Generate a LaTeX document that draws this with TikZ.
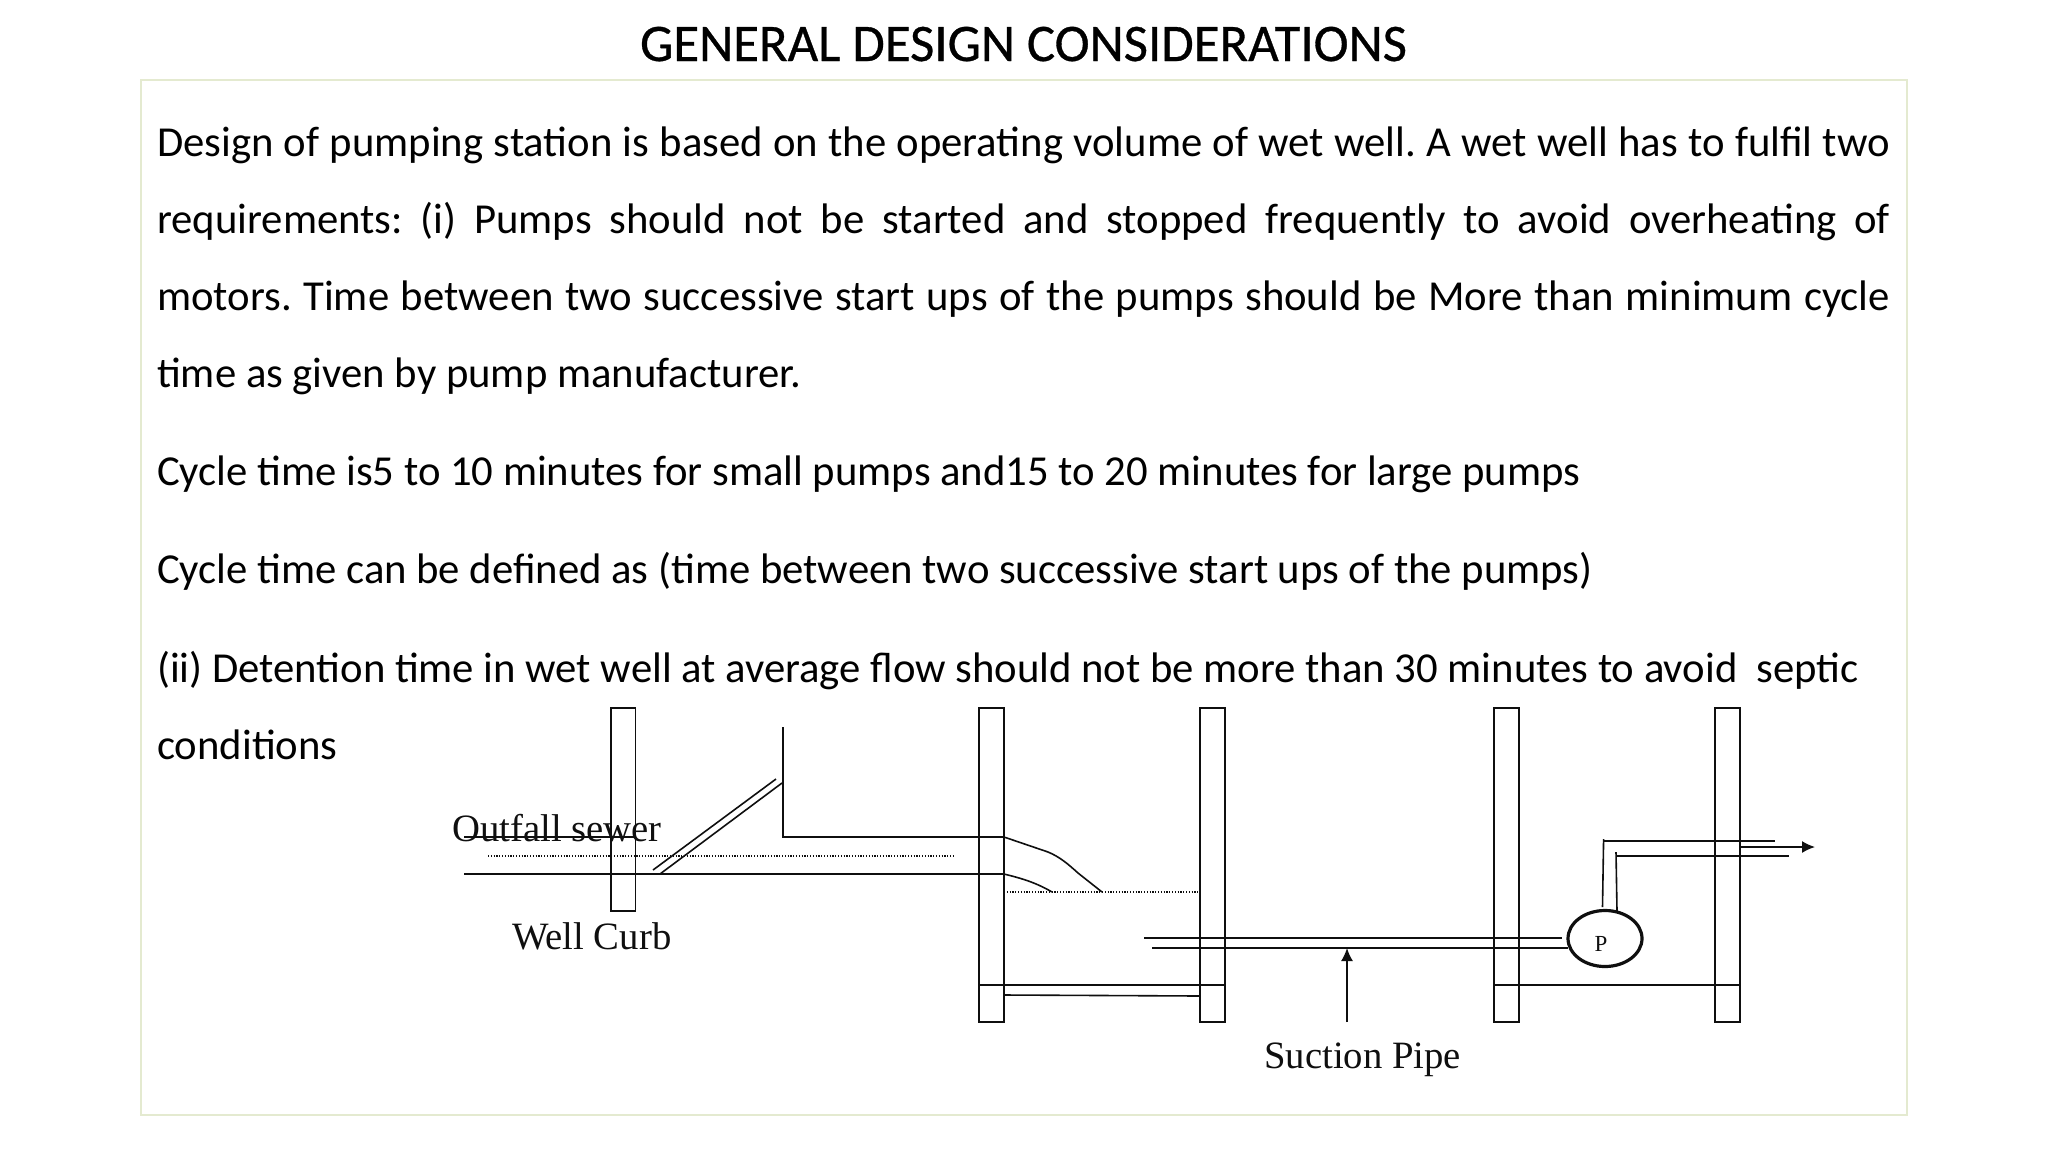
\documentclass[tikz,border=0pt]{standalone}
\usepackage{fontspec}
\usetikzlibrary{shapes.geometric,arrows.meta}
\setmainfont{Carlito}
\newfontfamily\diagfont{Liberation Serif}
\newfontfamily\titlefont[FakeBold=0.6]{Carlito}
\definecolor{framegreen}{RGB}{228,234,208}
\definecolor{inkc}{RGB}{15,15,15}
\tikzset{
  wall/.style={draw=inkc,line width=1.6pt,fill=none},
  pipe/.style={draw=inkc,line width=1.6pt},
  dots/.style={draw=inkc,line width=1.2pt,dash pattern=on 1.2pt off 1.6pt},
  bodyline/.style={anchor=base west,inner sep=0pt,font=\fontsize{42.7}{42.7}\selectfont,text=black},
  lab/.style={anchor=base west,inner sep=0pt,font=\diagfont\fontsize{38.7}{38.7}\selectfont,text=inkc},
}
\begin{document}
\frenchspacing
\begin{tikzpicture}[x=1pt,y=-1pt]
\useasboundingbox (0,0) rectangle (2048,1152);
\fill[white] (0,0) rectangle (2048,1152);
\draw[framegreen,line width=1.5pt] (141,80) rectangle (1907,1115);
\node[anchor=base,inner sep=0pt,font=\titlefont\fontsize{52.8}{52.8}\selectfont] (title) at (1023.5,61) {GENERAL DESIGN CONSIDERATIONS};
\node[bodyline] (l1) at (157,156) {\makebox[1733pt][s]{Design of pumping station is based on the operating volume of wet well. A wet well has to fulfil two}};
\node[bodyline] (l2) at (157,233) {\makebox[1733pt][s]{requirements: (i) Pumps should not be started and stopped frequently to avoid overheating of}};
\node[bodyline] (l3) at (157,310) {\makebox[1733pt][s]{motors. Time between two successive start ups of the pumps should be More than minimum cycle}};
\node[bodyline] (l4) at (157,387) {time as given by pump manufacturer.};
\node[bodyline] (l5) at (157,485) {Cycle time is5 to 10 minutes for small pumps and15 to 20 minutes for large pumps};
\node[bodyline] (l6) at (157,583) {Cycle time can be defined as (time between two successive start ups of the pumps)};
\node[bodyline] (l7) at (157,682) {(ii) Detention time in wet well at average flow should not be more than 30 minutes to avoid\ \ septic};
\node[bodyline] (l8) at (157,759) {conditions};
% walls
\draw[wall] (611,708) rectangle (635.5,911);
\draw[wall] (979,708) rectangle (1004,1022);
\draw[wall] (1200,708) rectangle (1225,1022);
\draw[wall] (1494,708) rectangle (1519,1022);
\draw[wall] (1715,708) rectangle (1740,1022);
% outfall sewer
\draw[pipe] (464,837) -- (635.5,837);
\draw[pipe] (783,727) -- (783,837) -- (1004,837) -- (1048,852) .. controls (1060,857) and (1068,864) .. (1078,873) -- (1102,892);
\draw[pipe] (464,874) -- (1004,874) .. controls (1020,878) and (1035,882) .. (1052,892);
\draw[pipe] (653,870) -- (776,779);
\draw[pipe] (660,874) -- (782,783);
\draw[dots] (488,856) -- (954,856);
\draw[dots] (1004,892) -- (1199,892);
% floors
\draw[pipe] (979,985) -- (1225,985);
\draw[pipe] (1494,985) -- (1740,985);
\draw[pipe] (1004,995) -- (1200,996);
% suction
\draw[pipe] (1144,938) -- (1562,938);
\draw[pipe] (1152,948) -- (1568,948);
% pump
\node[draw=inkc,line width=3.2pt,ellipse,minimum width=74pt,minimum height=56pt,inner sep=0pt] (pump) at (1605,938.5) {};
\node[anchor=base,inner sep=0pt,font=\diagfont\fontsize{23}{23}\selectfont,text=inkc] (ptext) at (1601,951) {P};
% delivery
\draw[pipe] (1602.5,907) -- (1603.6,839);
\draw[pipe] (1603.6,841) -- (1775,841);
\draw[pipe] (1617,911) -- (1616,852);
\draw[pipe] (1616,856) -- (1789,856);
\coordinate (dstart) at (1740,847);
\coordinate (dend) at (1815,847);
\draw[pipe,-{Latex[length=13pt,width=12pt]}] (dstart) -- (dend);
% suction arrow
\coordinate (sstart) at (1347,1022);
\coordinate (send) at (1347,948);
\draw[pipe,-{Latex[length=13pt,width=12pt]}] (sstart) -- (send);
% labels
\node[lab] (outfall) at (452,841) {Outfall sewer};
\node[lab] (well) at (512,949) {Well Curb};
\node[lab] (suction) at (1264,1068) {Suction Pipe};
\end{tikzpicture}
\end{document}
